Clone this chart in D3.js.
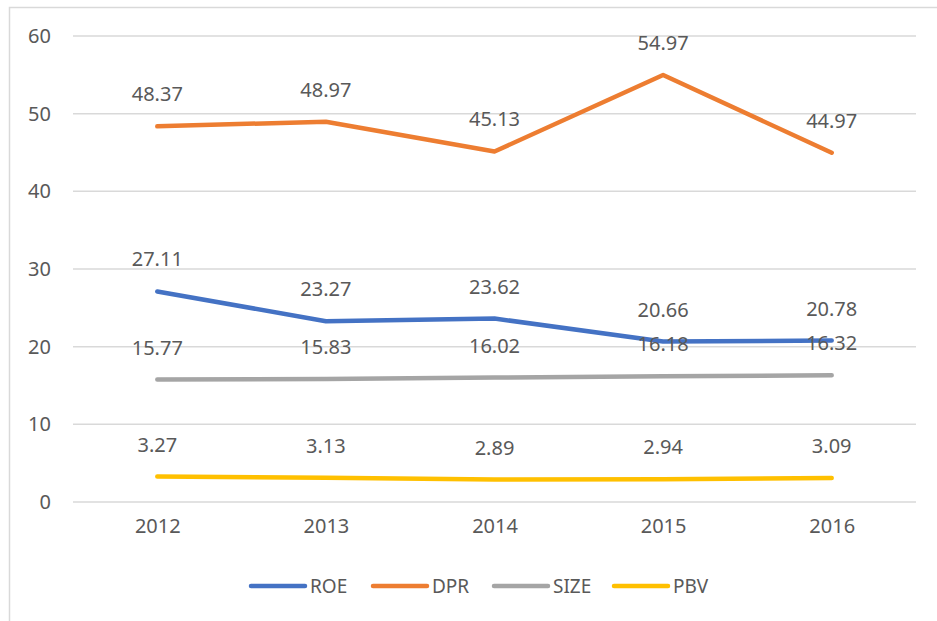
<!DOCTYPE html>
<html>
<head>
<meta charset="utf-8">
<script src="https://cdn.jsdelivr.net/npm/d3@7"></script>
<style>
  body { margin: 0; background: #fff; }
  svg text { font-family: "Noto Sans", sans-serif; fill: #595959; }
</style>
</head>
<body>
<svg id="chart" width="937" height="621"></svg>
<script>
const years = ['2012', '2013', '2014', '2015', '2016'];
const roe = [27.11, 23.27, 23.62, 20.66, 20.78];
const dpr = [48.37, 48.97, 45.13, 54.97, 44.97];
const size = [15.77, 15.83, 16.02, 16.18, 16.32];
const pbv = [3.27, 3.13, 2.89, 2.94, 3.09];
const yTicks = [0, 10, 20, 30, 40, 50, 60];

const series = [
  { key: 'ROE', values: roe, color: '#4472C4' },
  { key: 'DPR', values: dpr, color: '#ED7D31' },
  { key: 'SIZE', values: size, color: '#A5A5A5' },
  { key: 'PBV', values: pbv, color: '#FFC000' },
];

const width = 937;
const height = 621;
const padding = { top: 36, right: 21, bottom: 119, left: 73 };
const plotWidth = width - padding.left - padding.right;
const plotHeight = height - padding.top - padding.bottom;

const svg = d3.select('#chart');

// chart frame (only top and left edges fall inside the picture)
svg.append('path')
  .attr('d', 'M9.5,621 V7.5 H937')
  .attr('fill', 'none')
  .attr('stroke', '#d9d9d9')
  .attr('stroke-width', 1.5);

const g = svg.append('g').attr('transform', `translate(${padding.left} ${padding.top})`);

const xScale = d3.scalePoint().domain(years).range([0, plotWidth]).padding(0.5);
const yScale = d3.scaleLinear().domain([0, 60]).range([plotHeight, 0]);

// gridlines
g.append('g')
  .selectAll('line')
  .data(yTicks)
  .join('line')
  .attr('x1', 0)
  .attr('x2', plotWidth)
  .attr('y1', d => yScale(d))
  .attr('y2', d => yScale(d))
  .attr('stroke', '#d9d9d9')
  .attr('stroke-width', 1.5);

// y axis labels
const yAxis = d3.axisLeft(yScale).tickValues(yTicks).tickSize(0).tickPadding(22);
g.append('g').call(yAxis)
  .call(s => s.select('.domain').remove())
  .selectAll('text')
  .style('font-size', '20px')
  .attr('fill', '#595959');

// x axis labels
const xAxis = d3.axisBottom(xScale).tickSize(0).tickPadding(17);
g.append('g')
  .attr('transform', `translate(0, ${plotHeight})`)
  .call(xAxis)
  .call(s => s.select('.domain').remove())
  .selectAll('text')
  .style('font-size', '20px')
  .attr('fill', '#595959');

const lineGen = d3.line()
  .x((d, i) => xScale(years[i]))
  .y(d => yScale(d));

const chart = g.append('g').classed('chart-group', true);

chart.selectAll('.line')
  .data(series, d => d.key)
  .join('path')
  .classed('line', true)
  .attr('d', d => lineGen(d.values))
  .attr('fill', 'none')
  .attr('stroke', d => d.color)
  .attr('stroke-width', 4.5)
  .attr('stroke-linecap', 'round')
  .attr('stroke-linejoin', 'round');

// data labels above points
series.forEach(s => {
  chart.selectAll(null)
    .data(s.values)
    .join('text')
    .attr('x', (d, i) => xScale(years[i]))
    .attr('y', d => yScale(d) - 25)
    .attr('text-anchor', 'middle')
    .style('font-size', '20px')
    .text(d => d.toFixed(2));
});

// legend
const legendX = [250, 372, 493, 613];
const legend = svg.append('g').attr('transform', 'translate(0 586)');
const items = legend.selectAll('g')
  .data(series)
  .join('g')
  .attr('transform', (d, i) => `translate(${legendX[i]} 0)`);

items.append('line')
  .attr('x1', 1)
  .attr('x2', 55)
  .attr('stroke', d => d.color)
  .attr('stroke-width', 4.5)
  .attr('stroke-linecap', 'round');

items.append('text')
  .attr('x', 60)
  .attr('y', 7)
  .style('font-size', '19px')
  .text(d => d.key);
</script>
</body>
</html>
